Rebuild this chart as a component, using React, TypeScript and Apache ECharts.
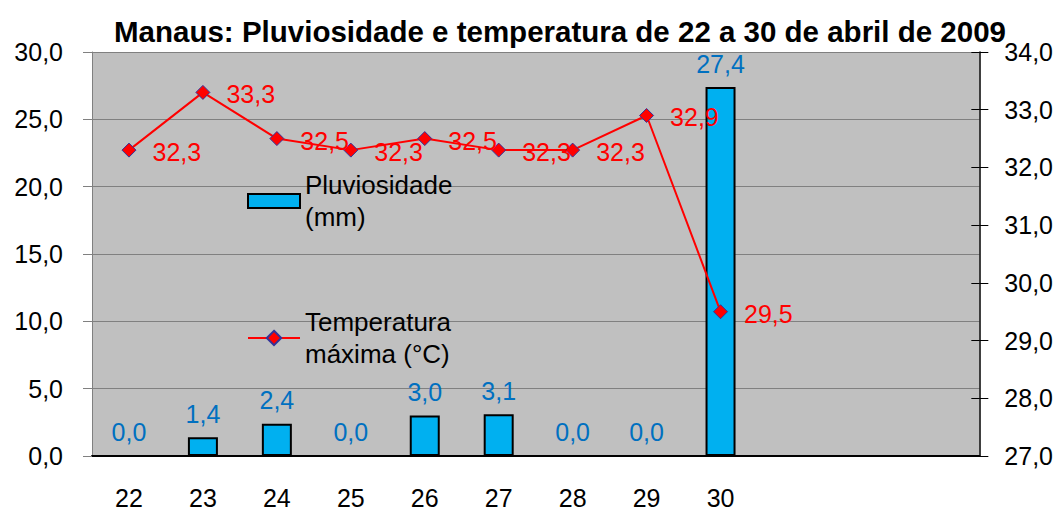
import React, { useEffect, useRef } from "react";
import * as echarts from "echarts";

const days = ["22", "23", "24", "25", "26", "27", "28", "29", "30", "", "", ""];
const rainfall = [0.0, 1.4, 2.4, 0.0, 3.0, 3.1, 0.0, 0.0, 27.4];
const maxTemp = [32.3, 33.3, 32.5, 32.3, 32.5, 32.3, 32.3, 32.9, 29.5];
const leftTicks = { min: 0, max: 30, interval: 5 };
const rightTicks = { min: 27, max: 34, interval: 1 };
const titleText = "Manaus: Pluviosidade e temperatura de 22 a 30 de abril de 2009";

const fmt = (v: number) => v.toFixed(1).replace(".", ",");
const FONT = "Liberation Sans";

export default function App() {
  const ref = useRef<HTMLDivElement>(null);
  useEffect(() => {
    const chart = echarts.init(ref.current!, null, { renderer: "svg" });
    chart.setOption({
      animation: false,
      textStyle: { fontFamily: FONT },
      title: {
        text: titleText,
        left: 547,
        top: 3,
        textAlign: "center",
        textStyle: { fontFamily: FONT, fontWeight: "bold", fontSize: 29.5, color: "#000" },
      },
      legend: [
        {
          data: [{ name: "Pluviosidade", icon: "rect" }],
          left: 239,
          top: 145,
          padding: 0,
          itemWidth: 52,
          itemHeight: 14,
          formatter: () => "Pluviosidade\n(mm)",
          textStyle: { fontSize: 26, color: "#000", lineHeight: 32, padding: [32, 0, 0, 0] },
        },
        {
          data: ["Temperatura"],
          left: 239,
          top: 282,
          padding: 0,
          itemWidth: 52,
          itemHeight: 18,
          formatter: () => "Temperatura\nmáxima (°C)",
          textStyle: { fontSize: 26, color: "#000", lineHeight: 32, padding: [32, 0, 0, 0] },
        },
      ],
      grid: { left: 84, right: 74, top: 44, bottom: 45, show: true, backgroundColor: "#C0C0C0", borderWidth: 0 },
      xAxis: {
        type: "category",
        data: days,
        axisLine: { lineStyle: { color: "#000", width: 2 } },
        axisTick: { show: false },
        axisLabel: { fontSize: 25, color: "#000", margin: 29, interval: 0 },
      },
      yAxis: [
        {
          type: "value",
          min: leftTicks.min,
          max: leftTicks.max,
          interval: leftTicks.interval,
          axisLine: { show: true, lineStyle: { color: "#808080", width: 1 } },
          axisTick: { show: true, length: 9, lineStyle: { color: "#808080" } },
          axisLabel: { fontSize: 25, color: "#000", margin: 29, formatter: (v: number) => fmt(v) },
          splitLine: { show: true, lineStyle: { color: "#808080", width: 1 } },
        },
        {
          type: "value",
          min: rightTicks.min,
          max: rightTicks.max,
          interval: rightTicks.interval,
          position: "right",
          axisLine: { show: true, lineStyle: { color: "#000", width: 1.5 } },
          axisTick: { show: true, length: 9, lineStyle: { color: "#000" } },
          axisLabel: { fontSize: 25, color: "#000", margin: 25, formatter: (v: number) => fmt(v) },
          splitLine: { show: false },
        },
        {
          type: "value",
          min: rightTicks.min,
          max: rightTicks.max,
          interval: rightTicks.interval,
          position: "right",
          axisLine: { show: false },
          axisTick: { show: true, inside: true, length: 8, lineStyle: { color: "#000" } },
          axisLabel: { show: false },
          splitLine: { show: false },
        },
      ],
      series: [
        {
          name: "Pluviosidade",
          type: "bar",
          data: rainfall,
          barWidth: 30,
          itemStyle: { color: "#00B0F0", borderColor: "#000", borderWidth: 2 },
          label: {
            show: true,
            position: "top",
            distance: 11,
            fontSize: 25,
            color: "#0070C0",
            formatter: (p: any) => fmt(p.value),
          },
        },
        {
          name: "Temperatura",
          type: "line",
          yAxisIndex: 1,
          data: maxTemp,
          symbol: "diamond",
          symbolSize: 14,
          lineStyle: { color: "#FF0000", width: 2 },
          itemStyle: { color: "#FF0000", borderColor: "#333399", borderWidth: 1 },
          label: {
            show: true,
            position: "right",
            distance: 16,
            offset: [0, 2],
            fontSize: 25,
            color: "#FF0000",
            formatter: (p: any) => fmt(p.value),
          },
        },
      ],
    });
    return () => chart.dispose();
  }, []);
  return <div ref={ref} style={{ width: 1048, height: 502 }} />;
}
